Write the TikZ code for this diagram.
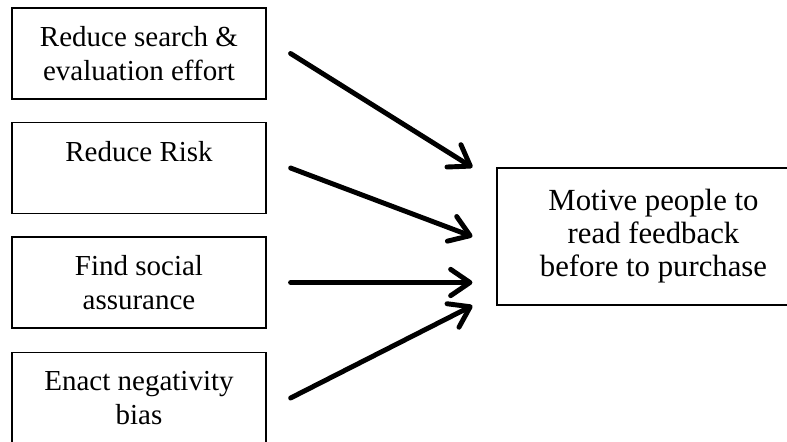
\documentclass[tikz,border=0pt]{standalone}
\usepackage{fontspec}
\setmainfont{Liberation Serif}
\usetikzlibrary{arrows.meta}

\tikzset{
    factor/.style={draw, line width=0.7pt, minimum width=5.08cm, minimum height=1.82cm,
        align=center, inner sep=2pt, font=\fontsize{16.5}{19.3}\selectfont},
    motive/.style={draw, line width=0.7pt, minimum width=6.26cm, minimum height=2.74cm,
        align=center, inner sep=2pt, font=\fontsize{17.5}{18.8}\selectfont},
    push/.style={line width=2.8pt, line cap=round, -{Straight Barb[length=11pt,width=15pt,round]}}
}

\begin{document}
\begin{tikzpicture}[x=0.02cm, y=-0.02cm]
            \clip (0,0) rectangle (787,441);
            \node[factor](search) at (139,53.5)  {Reduce search \&\\evaluation effort};
            \node[factor](risk)   at (139,168)   {Reduce Risk\\\mbox{}};
            \node[factor](social) at (139,282.5) {Find social\\assurance};
            \node[factor](bias)   at (139,398)   {Enact negativity\\bias};
            \node[motive](read)   at (653.5,236.5) {Motive people to\\read feedback\\before to purchase};
            \draw[push] ([xshift=0.48cm]search.east) -- ([xshift=-0.48cm]read.north west);
            \draw[push] ([xshift=0.48cm]risk.east)   -- ([xshift=-0.48cm]read.west);
            \draw[push] ([xshift=0.48cm]social.east) -- ([xshift=-0.48cm]read.west |- social.east);
            \draw[push] ([xshift=0.48cm]bias.east)   -- ([xshift=-0.48cm]read.south west);
        \end{tikzpicture}
\end{document}
